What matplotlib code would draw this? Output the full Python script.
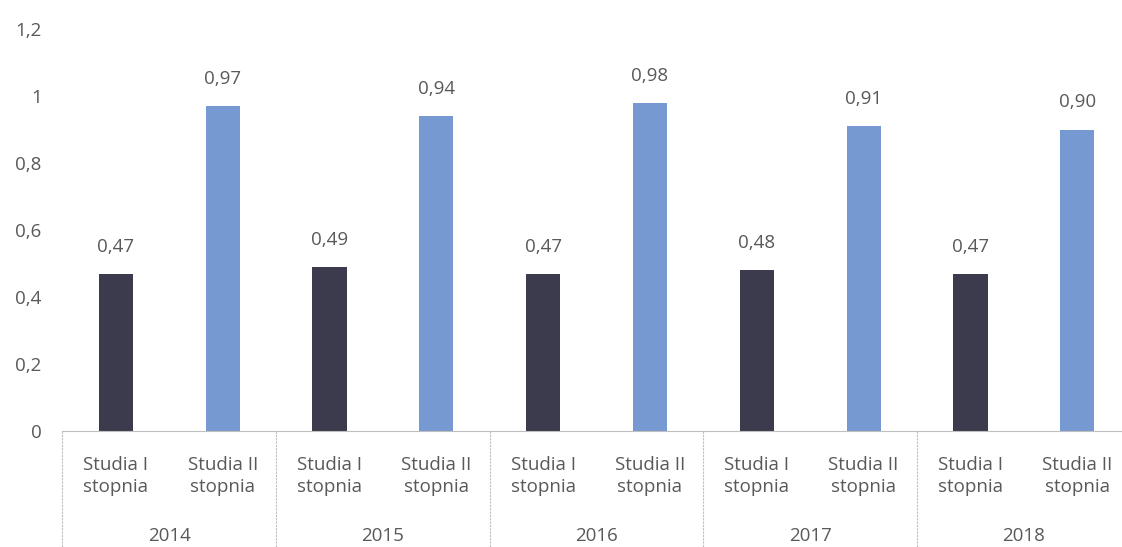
import numpy as np
import matplotlib.pyplot as plt
import matplotlib.transforms as mtransforms

years = ['2014', '2015', '2016', '2017', '2018']
levels = ['Studia I\nstopnia', 'Studia II\nstopnia']
first_cycle = [0.47, 0.49, 0.47, 0.48, 0.47]
second_cycle = [0.97, 0.94, 0.98, 0.91, 0.90]

dark = '#3c3b4d'
blue = '#7799d2'
text_col = '#595959'
line_col = '#bfbfbf'
fs = 13.5

plt.rcParams['font.family'] = ['Open Sans', 'DejaVu Sans']

fig = plt.figure(figsize=(11.22, 5.47), dpi=100)
ax = fig.add_axes([0.0557, 0.212, 0.952, 0.735])

x = np.arange(len(years))
x1 = 2 * x + 0.5
x2 = 2 * x + 1.5
w = 0.32
b1 = ax.bar(x1, first_cycle, width=w, color=dark)
b2 = ax.bar(x2, second_cycle, width=w, color=blue)

for bars, vals in ((b1, first_cycle), (b2, second_cycle)):
    for rect, v in zip(bars, vals):
        ax.annotate(f'{v:.2f}'.replace('.', ','),
                    (rect.get_x() + rect.get_width() / 2, v),
                    xytext=(0, 13), textcoords='offset points',
                    ha='center', va='bottom', fontsize=fs, color=text_col)

ax.set_xlim(0, 10)
ax.set_ylim(0, 1.2)
ticks = np.arange(0, 1.21, 0.2)
ax.set_yticks(ticks)
ax.set_yticklabels([('%g' % round(t, 1)).replace('.', ',') for t in ticks])
ax.tick_params(axis='y', length=0, pad=15, labelsize=fs, labelcolor=text_col)
ax.set_xticks([])
for s in ('top', 'right', 'left'):
    ax.spines[s].set_visible(False)
ax.spines['bottom'].set_color(line_col)
ax.spines['bottom'].set_linestyle((0, (2, 1)))
ax.spines['bottom'].set_linewidth(0.8)

# two-level category axis below the bars
trans = mtransforms.blended_transform_factory(ax.transData, ax.transAxes)
px = 1.0 / (ax.get_position().height * fig.get_figheight() * fig.dpi)
for g in range(len(years) + 1):
    ax.plot([2 * g, 2 * g], [0, -120 * px], transform=trans, clip_on=False,
            color=line_col, lw=0.8, ls=(0, (2, 1)))
for i, yr in enumerate(years):
    for j, lab in enumerate(levels):
        ax.text(2 * i + j + 0.5, -45 * px, lab, transform=trans,
                ha='center', va='center', fontsize=fs, color=text_col,
                linespacing=1.25)
    ax.text(2 * i + 1, -105 * px, yr, transform=trans,
            ha='center', va='center', fontsize=fs, color=text_col)

fig.savefig('out.png', dpi=100)
